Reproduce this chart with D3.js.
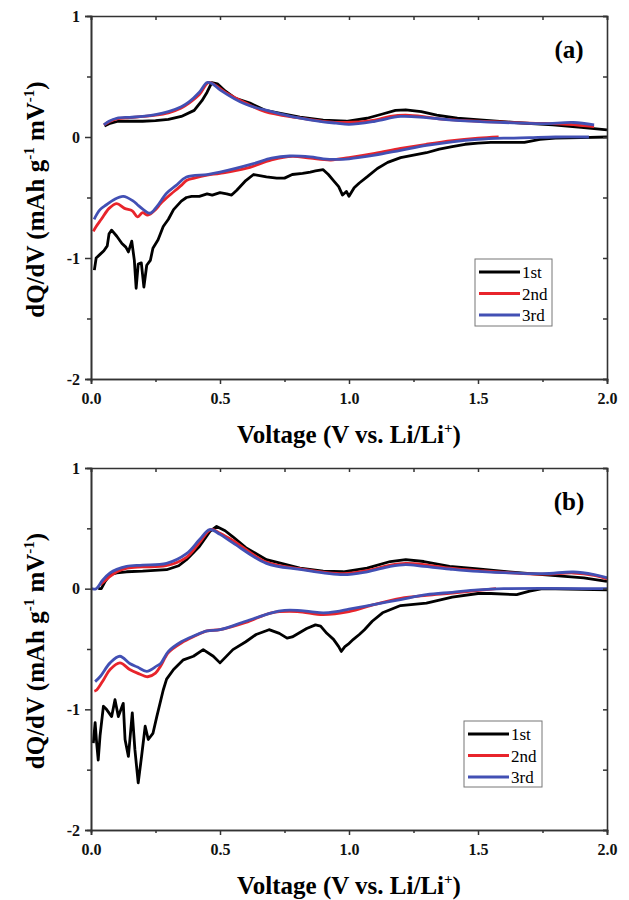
<!DOCTYPE html>
<html>
<head>
<meta charset="utf-8">
<script src="https://cdn.jsdelivr.net/npm/d3@7"></script>
<style>
  body { margin: 0; background: #fff; }
  text { font-family: "Liberation Serif", "Times New Roman", serif; }
</style>
</head>
<body>
<script>
// dQ/dV curves: [voltage, dQ/dV]
var cycles = ["1st", "2nd", "3rd"];
var colors = ["#000000", "#e8242b", "#4250b4"];
var xTicks = [0, 0.5, 1.0, 1.5, 2.0];
var yTicks = [-2, -1, 0, 1];

// panel (a)
var aDis1 = [[2.0,0.0],[1.9,-0.005],[1.8,-0.01],[1.74,-0.02],[1.68,-0.045],[1.6,-0.045],[1.55,-0.045],[1.5,-0.05],[1.45,-0.06],[1.4,-0.08],[1.35,-0.1],[1.3,-0.13],[1.25,-0.15],[1.2,-0.17],[1.15,-0.21],[1.11,-0.26],[1.07,-0.33],[1.04,-0.38],[1.02,-0.42],[1.0,-0.49],[0.99,-0.45],[0.975,-0.48],[0.96,-0.41],[0.94,-0.36],[0.92,-0.31],[0.9,-0.27],[0.87,-0.28],[0.85,-0.29],[0.82,-0.3],[0.78,-0.31],[0.75,-0.34],[0.72,-0.34],[0.68,-0.33],[0.63,-0.31],[0.6,-0.36],[0.565,-0.44],[0.545,-0.48],[0.526,-0.47],[0.5,-0.46],[0.47,-0.48],[0.45,-0.47],[0.42,-0.49],[0.39,-0.49],[0.37,-0.5],[0.35,-0.53],[0.32,-0.6],[0.3,-0.68],[0.28,-0.74],[0.26,-0.85],[0.24,-0.92],[0.23,-1.02],[0.216,-1.06],[0.205,-1.24],[0.195,-1.04],[0.183,-1.05],[0.175,-1.25],[0.168,-1.02],[0.158,-0.86],[0.145,-0.95],[0.135,-0.91],[0.12,-0.88],[0.1,-0.82],[0.08,-0.77],[0.07,-0.8],[0.063,-0.9],[0.05,-0.94],[0.035,-0.97],[0.02,-1.0],[0.013,-1.1]];
var aChg1 = [[0.052,0.09],[0.07,0.11],[0.105,0.13],[0.15,0.13],[0.2,0.13],[0.25,0.135],[0.3,0.146],[0.35,0.17],[0.4,0.22],[0.43,0.3],[0.45,0.37],[0.468,0.45],[0.49,0.44],[0.52,0.38],[0.56,0.32],[0.616,0.28],[0.675,0.22],[0.75,0.19],[0.81,0.165],[0.9,0.14],[0.99,0.13],[1.07,0.155],[1.13,0.19],[1.18,0.22],[1.22,0.225],[1.28,0.21],[1.34,0.18],[1.42,0.155],[1.52,0.14],[1.64,0.12],[1.79,0.1],[1.9,0.08],[2.0,0.058]];
var aDis2 = [[1.58,0.0],[1.5,-0.01],[1.4,-0.03],[1.3,-0.06],[1.2,-0.095],[1.1,-0.135],[1.0,-0.17],[0.93,-0.19],[0.85,-0.175],[0.78,-0.16],[0.7,-0.19],[0.6,-0.26],[0.5,-0.3],[0.45,-0.315],[0.4,-0.34],[0.37,-0.36],[0.35,-0.4],[0.3,-0.49],[0.27,-0.55],[0.25,-0.6],[0.22,-0.645],[0.2,-0.625],[0.18,-0.66],[0.16,-0.61],[0.13,-0.59],[0.1,-0.55],[0.07,-0.59],[0.04,-0.68],[0.02,-0.74],[0.009,-0.78]];
var aChg2 = [[0.05,0.1],[0.07,0.125],[0.1,0.15],[0.15,0.16],[0.2,0.17],[0.25,0.18],[0.3,0.2],[0.35,0.24],[0.38,0.28],[0.42,0.35],[0.455,0.45],[0.48,0.43],[0.52,0.37],[0.6,0.28],[0.675,0.21],[0.8,0.16],[0.9,0.13],[0.99,0.12],[1.1,0.14],[1.16,0.17],[1.22,0.18],[1.3,0.165],[1.35,0.15],[1.5,0.13],[1.7,0.115],[1.85,0.105],[1.95,0.085]];
var aDis3 = [[1.93,0.0],[1.8,0.0],[1.7,-0.005],[1.6,-0.01],[1.5,-0.02],[1.4,-0.04],[1.3,-0.07],[1.2,-0.11],[1.1,-0.15],[1.0,-0.18],[0.95,-0.185],[0.9,-0.18],[0.85,-0.165],[0.77,-0.157],[0.7,-0.175],[0.63,-0.22],[0.5,-0.29],[0.45,-0.31],[0.37,-0.33],[0.33,-0.4],[0.293,-0.465],[0.255,-0.575],[0.229,-0.63],[0.203,-0.6],[0.18,-0.56],[0.164,-0.53],[0.125,-0.49],[0.087,-0.52],[0.06,-0.56],[0.035,-0.6],[0.012,-0.68]];
var aChg3 = [[0.05,0.1],[0.07,0.13],[0.1,0.155],[0.15,0.163],[0.2,0.17],[0.25,0.185],[0.3,0.21],[0.35,0.25],[0.38,0.29],[0.42,0.37],[0.45,0.45],[0.47,0.44],[0.5,0.39],[0.6,0.27],[0.7,0.21],[0.8,0.16],[0.9,0.125],[0.95,0.115],[1.0,0.105],[1.1,0.13],[1.2,0.17],[1.3,0.16],[1.4,0.14],[1.6,0.12],[1.75,0.11],[1.87,0.12],[1.95,0.1]];

// panel (b)
var bDis1 = [[2.0,-0.01],[1.75,0.0],[1.7,-0.02],[1.65,-0.05],[1.55,-0.04],[1.5,-0.04],[1.4,-0.07],[1.3,-0.12],[1.2,-0.14],[1.13,-0.2],[1.09,-0.27],[1.06,-0.34],[1.04,-0.38],[1.017,-0.42],[0.997,-0.46],[0.984,-0.48],[0.97,-0.52],[0.96,-0.48],[0.94,-0.42],[0.914,-0.37],[0.89,-0.31],[0.87,-0.3],[0.836,-0.33],[0.78,-0.4],[0.76,-0.41],[0.73,-0.37],[0.69,-0.34],[0.64,-0.38],[0.6,-0.44],[0.55,-0.505],[0.5,-0.615],[0.474,-0.56],[0.435,-0.505],[0.397,-0.56],[0.358,-0.59],[0.32,-0.67],[0.293,-0.75],[0.28,-0.84],[0.255,-1.06],[0.24,-1.2],[0.222,-1.25],[0.21,-1.14],[0.196,-1.39],[0.183,-1.61],[0.17,-1.33],[0.16,-1.03],[0.145,-1.39],[0.132,-1.25],[0.125,-0.95],[0.106,-1.06],[0.093,-0.92],[0.08,-1.06],[0.06,-1.0],[0.048,-0.975],[0.035,-1.22],[0.028,-1.42],[0.022,-1.28],[0.016,-1.11],[0.009,-1.28]];
var bChg1 = [[0.028,0.0],[0.04,0.0],[0.055,0.06],[0.074,0.116],[0.1,0.13],[0.138,0.14],[0.2,0.145],[0.293,0.157],[0.34,0.19],[0.37,0.24],[0.42,0.35],[0.461,0.475],[0.487,0.516],[0.52,0.48],[0.55,0.43],[0.6,0.34],[0.68,0.24],[0.81,0.17],[0.9,0.145],[0.978,0.14],[1.07,0.17],[1.16,0.225],[1.22,0.24],[1.29,0.225],[1.39,0.185],[1.5,0.163],[1.62,0.14],[1.75,0.116],[1.91,0.09],[2.0,0.06]];
var bDis2 = [[1.57,0.0],[1.4,-0.036],[1.3,-0.055],[1.2,-0.08],[1.1,-0.13],[1.0,-0.19],[0.9,-0.215],[0.8,-0.19],[0.7,-0.2],[0.6,-0.28],[0.5,-0.34],[0.45,-0.35],[0.4,-0.395],[0.35,-0.45],[0.3,-0.53],[0.27,-0.64],[0.25,-0.7],[0.22,-0.73],[0.18,-0.7],[0.15,-0.67],[0.112,-0.615],[0.074,-0.67],[0.05,-0.75],[0.022,-0.84],[0.013,-0.85]];
var bChg2 = [[0.035,0.03],[0.067,0.09],[0.1,0.14],[0.14,0.17],[0.2,0.18],[0.29,0.19],[0.37,0.26],[0.42,0.38],[0.465,0.49],[0.5,0.46],[0.55,0.4],[0.68,0.22],[0.81,0.165],[0.98,0.125],[1.07,0.15],[1.16,0.195],[1.22,0.21],[1.29,0.2],[1.39,0.17],[1.5,0.15],[1.75,0.12],[1.87,0.13],[1.95,0.11],[2.0,0.08]];
var bDis3 = [[2.0,0.0],[1.6,0.0],[1.5,-0.01],[1.4,-0.03],[1.3,-0.05],[1.2,-0.09],[1.1,-0.13],[1.0,-0.17],[0.95,-0.19],[0.9,-0.2],[0.85,-0.19],[0.8,-0.18],[0.75,-0.18],[0.7,-0.2],[0.6,-0.27],[0.5,-0.34],[0.45,-0.35],[0.4,-0.39],[0.35,-0.44],[0.3,-0.52],[0.27,-0.62],[0.255,-0.64],[0.216,-0.685],[0.18,-0.65],[0.15,-0.62],[0.112,-0.56],[0.074,-0.615],[0.035,-0.73],[0.016,-0.77]];
var bChg3 = [[0.0,0.0],[0.02,0.0],[0.045,0.07],[0.074,0.13],[0.1,0.16],[0.138,0.185],[0.2,0.195],[0.293,0.21],[0.37,0.29],[0.42,0.405],[0.46,0.49],[0.5,0.45],[0.55,0.38],[0.68,0.21],[0.81,0.16],[0.978,0.116],[1.07,0.14],[1.16,0.185],[1.22,0.2],[1.29,0.185],[1.39,0.163],[1.5,0.144],[1.75,0.124],[1.87,0.138],[1.95,0.116],[2.0,0.09]];

var W = 629, H = 900;
var left = 91, right = 607;

var svg = d3.select("body").append("svg")
    .attr("width", W)
    .attr("height", H);

var panels = [
  { tag: "(a)", top: 16, bottom: 379, id: "a",
    series: [[aDis1, aChg1], [aDis2, aChg2], [aDis3, aChg3]],
    legend: { x: 475, y: 259, w: 77, h: 67 } },
  { tag: "(b)", top: 468, bottom: 830, id: "b",
    series: [[bDis1, bChg1], [bDis2, bChg2], [bDis3, bChg3]],
    legend: { x: 464, y: 721, w: 78, h: 66 } }
];

function fmt(d){ return String(d); }
function fmtX(d){ return d3.format(".1f")(d); }

panels.forEach(function(p){
  var x = d3.scaleLinear().domain([0, 2]).range([left, right]);
  var y = d3.scaleLinear().domain([-2, 1]).range([p.bottom, p.top]);
  var g = svg.append("g");

  g.append("clipPath").attr("id", "clip-" + p.id)
    .append("rect")
    .attr("x", left).attr("y", p.top)
    .attr("width", right - left).attr("height", p.bottom - p.top);

  var line = d3.line()
    .x(function(d){ return x(d[0]); })
    .y(function(d){ return y(d[1]); });

  var plot = g.append("g").attr("clip-path", "url(#clip-" + p.id + ")");
  p.series.forEach(function(branches, i){
    branches.forEach(function(arr){
      plot.append("path")
        .datum(arr)
        .attr("fill", "none")
        .attr("stroke", colors[i])
        .attr("stroke-width", 2.8)
        .attr("stroke-linejoin", "round")
        .attr("d", line.curve(i == 0 ? d3.curveLinear : d3.curveCatmullRom)(arr));
    });
  });

  // axes (left/bottom out, top/right ticks in)
  var axisColor = "#333";
  var minorX = [0.25, 0.75, 1.25, 1.75];
  var minorY = [-1.5, -0.5, 0.5];

  g.append("g").attr("transform", "translate(0," + p.bottom + ")")
    .call(d3.axisBottom(x).tickValues(xTicks).tickSize(5).tickPadding(9).tickFormat(fmtX));
  g.append("g").attr("transform", "translate(0," + p.bottom + ")")
    .call(d3.axisBottom(x).tickValues(minorX).tickSize(3).tickFormat(""));
  g.append("g").attr("transform", "translate(" + left + ",0)")
    .call(d3.axisLeft(y).tickValues(yTicks).tickSize(6).tickPadding(5).tickFormat(fmt));
  g.append("g").attr("transform", "translate(" + left + ",0)")
    .call(d3.axisLeft(y).tickValues(minorY).tickSize(4).tickFormat(""));
  g.append("g").attr("transform", "translate(0," + p.top + ")")
    .call(d3.axisTop(x).tickValues(xTicks.concat(minorX)).tickSize(-4).tickFormat(""));
  g.append("g").attr("transform", "translate(" + right + ",0)")
    .call(d3.axisRight(y).tickValues(yTicks.concat(minorY)).tickSize(-4).tickFormat(""));

  g.selectAll(".domain").attr("stroke", axisColor).attr("stroke-width", 1.6);
  g.selectAll(".tick line").attr("stroke", axisColor).attr("stroke-width", 1.5);
  g.selectAll(".tick text")
    .attr("fill", "#111")
    .style("font-family", "'Liberation Serif', serif")
    .style("font-weight", "bold")
    .style("font-size", "16px");

  // axis titles
  var xt = g.append("text")
    .attr("x", (left + right) / 2)
    .attr("y", p.bottom + 64)
    .attr("text-anchor", "middle")
    .style("font-weight", "bold")
    .style("font-size", "25px");
  xt.append("tspan").text("Voltage (V vs. Li/Li");
  xt.append("tspan").attr("dy", -10).style("font-size", "15px").text("+");
  xt.append("tspan").attr("dy", 10).text(")");

  var yt = g.append("text")
    .attr("transform", "translate(44," + ((p.top + p.bottom) / 2 + 2) + ") rotate(-90)")
    .attr("text-anchor", "middle")
    .style("font-weight", "bold")
    .style("font-size", "25px");
  yt.append("tspan").text("dQ/dV (mAh g");
  yt.append("tspan").attr("dy", -10).style("font-size", "15px").text("-1");
  yt.append("tspan").attr("dy", 10).text(" mV");
  yt.append("tspan").attr("dy", -10).style("font-size", "15px").text("-1");
  yt.append("tspan").attr("dy", 10).text(")");

  g.append("text")
    .attr("x", 569).attr("y", p.top + 42)
    .attr("text-anchor", "middle")
    .style("font-weight", "bold")
    .style("font-size", "25px")
    .text(p.tag);

  // legend
  var L = p.legend;
  var lg = g.append("g");
  lg.append("rect")
    .attr("x", L.x).attr("y", L.y).attr("width", L.w).attr("height", L.h)
    .attr("fill", "#fff").attr("stroke", "#777").attr("stroke-width", 1);
  cycles.forEach(function(c, i){
    var ry = L.y + 13 + i * 21.5;
    lg.append("line")
      .attr("x1", L.x + 4).attr("x2", L.x + 45)
      .attr("y1", ry).attr("y2", ry)
      .attr("stroke", colors[i]).attr("stroke-width", 2.8);
    lg.append("text")
      .attr("x", L.x + 47).attr("y", ry + 6)
      .style("font-size", "17px")
      .text(c);
  });
});
</script>
</body>
</html>
